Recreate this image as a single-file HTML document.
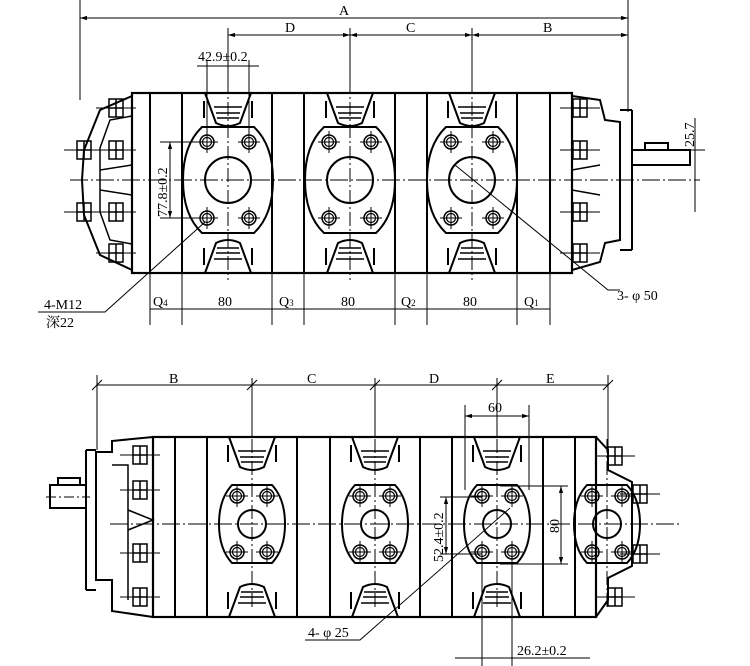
<!DOCTYPE html>
<html><head><meta charset="utf-8"><style>
html,body{margin:0;padding:0;background:#fff;width:750px;height:666px;overflow:hidden}
svg{display:block}
text{font-family:"Liberation Serif","Noto Serif CJK SC",serif;font-size:14px;fill:#000}
</style></head><body>
<svg width="750" height="666" viewBox="0 0 750 666" xmlns="http://www.w3.org/2000/svg">
<defs>
<marker id="ar" viewBox="0 0 10 10" refX="10" refY="5" markerWidth="7" markerHeight="7" orient="auto-start-reverse"><path d="M0,2 L10,5 L0,8z" fill="#000"/></marker>
<g id="bolt"><circle r="7" fill="none" stroke="#000" stroke-width="1.5"/><circle r="4.5" fill="none" stroke="#000" stroke-width="1.2"/><line x1="-11" y1="0" x2="11" y2="0" stroke="#000"/><line x1="0" y1="-11" x2="0" y2="11" stroke="#000"/></g>
<g id="wedgeT" stroke="#000" fill="none" stroke-width="2">
<path d="M-23,0 L-12,30 Q0,36 12,30 L23,0"/><line x1="-14" y1="14" x2="14" y2="14" stroke-width="1.5"/><line x1="-12" y1="20" x2="12" y2="20" stroke-width="1.5"/><line x1="-11" y1="25" x2="11" y2="25" stroke-width="1.5"/>
<line x1="-24" y1="8" x2="-24" y2="25"/><line x1="24" y1="8" x2="24" y2="25"/></g>
<g id="portT">
<path d="M-26,-53 L26,-53 Q45,-35 45,0 Q45,35 26,53 L-26,53 Q-45,35 -45,0 Q-45,-35 -26,-53z" fill="none" stroke="#000" stroke-width="2"/>
<circle r="23" fill="none" stroke="#000" stroke-width="2"/>
<use href="#bolt" x="-21" y="-38"/><use href="#bolt" x="21" y="-38"/><use href="#bolt" x="-21" y="38"/><use href="#bolt" x="21" y="38"/>
<line x1="0" y1="-100" x2="0" y2="100" stroke="#000" stroke-dasharray="14,3,2,3"/>
</g>
<g id="portB">
<path d="M-20,-39 L20,-39 Q33,-25 33,0 Q33,25 20,39 L-20,39 Q-33,25 -33,0 Q-33,-25 -20,-39z" fill="none" stroke="#000" stroke-width="2"/>
<circle r="14" fill="none" stroke="#000" stroke-width="2"/>
<use href="#bolt" x="-15" y="-28"/><use href="#bolt" x="15" y="-28"/><use href="#bolt" x="-15" y="28"/><use href="#bolt" x="15" y="28"/>
<line x1="0" y1="-85" x2="0" y2="85" stroke="#000" stroke-dasharray="14,3,2,3"/>
</g>
<g id="nut" stroke="#000" fill="none" stroke-width="1.5"><rect x="-7" y="-9" width="14" height="18"/><line x1="-7" y1="0" x2="7" y2="0"/><line x1="0" y1="-9" x2="0" y2="9"/><line x1="-20" y1="0" x2="20" y2="0" stroke-width="1"/></g>
</defs>

<g stroke="#000" fill="none">
<rect x="132" y="93" width="440" height="180" stroke-width="2.2"/>
<g stroke-width="2"><line x1="150" y1="93" x2="150" y2="273"/><line x1="182" y1="93" x2="182" y2="273"/><line x1="272" y1="93" x2="272" y2="273"/><line x1="304" y1="93" x2="304" y2="273"/><line x1="395" y1="93" x2="395" y2="273"/><line x1="427" y1="93" x2="427" y2="273"/><line x1="517" y1="93" x2="517" y2="273"/><line x1="550" y1="93" x2="550" y2="273"/></g>
<path d="M132,96 L100,110 L92,130 L84,150 L82,180 L84,215 L92,235 L100,255 L132,270" stroke-width="2"/>
<path d="M132,116 L110,120 L100,148 L100,212 L110,240 L132,244" stroke-width="1.5"/>
<path d="M100,170 L132,165 M100,190 L132,195" stroke-width="1.5"/>
<use href="#nut" x="116" y="108"/><use href="#nut" x="116" y="150"/><use href="#nut" x="116" y="212"/><use href="#nut" x="116" y="253"/><use href="#nut" x="84" y="150"/><use href="#nut" x="84" y="212"/>
<path d="M572,96 L600,100 L605,120 L620,122 L620,240 L605,243 L600,262 L572,270" stroke-width="2"/>
<line x1="620" y1="110" x2="632" y2="110" stroke-width="2"/><line x1="632" y1="110" x2="632" y2="250" stroke-width="2"/><line x1="620" y1="250" x2="632" y2="250" stroke-width="2"/>
<path d="M632,150 L690,150 L690,165 L632,165 M645,150 L645,143 L668,143 L668,150" stroke-width="2"/>
<path d="M572,170 L600,165 M572,190 L600,195" stroke-width="1.5"/>
<use href="#nut" x="580" y="108"/><use href="#nut" x="580" y="150"/><use href="#nut" x="580" y="212"/><use href="#nut" x="580" y="253"/>
<line x1="70" y1="180" x2="700" y2="180" stroke-dasharray="18,3,2,3"/>
<use href="#portT" x="228" y="180"/><use href="#portT" x="350" y="180"/><use href="#portT" x="472" y="180"/>
<use href="#wedgeT" x="228" y="93"/><use href="#wedgeT" x="350" y="93"/><use href="#wedgeT" x="472" y="93"/>
<use href="#wedgeT" x="228" y="273" transform="translate(0,546) scale(1,-1)"/><use href="#wedgeT" x="350" y="273" transform="translate(0,546) scale(1,-1)"/><use href="#wedgeT" x="472" y="273" transform="translate(0,546) scale(1,-1)"/>
<line x1="80" y1="0" x2="80" y2="100"/><line x1="628" y1="0" x2="628" y2="112"/>
<line x1="80" y1="18" x2="628" y2="18" marker-start="url(#ar)" marker-end="url(#ar)"/>
<line x1="228" y1="28" x2="228" y2="90"/><line x1="350" y1="28" x2="350" y2="90"/><line x1="472" y1="28" x2="472" y2="90"/>
<line x1="228" y1="35" x2="350" y2="35" marker-start="url(#ar)" marker-end="url(#ar)"/><line x1="350" y1="35" x2="472" y2="35" marker-start="url(#ar)" marker-end="url(#ar)"/><line x1="472" y1="35" x2="628" y2="35" marker-start="url(#ar)" marker-end="url(#ar)"/>
<line x1="207" y1="60" x2="207" y2="135"/><line x1="249" y1="60" x2="249" y2="135"/><line x1="197" y1="66" x2="259" y2="66"/>
<line x1="160" y1="142" x2="200" y2="142"/><line x1="160" y1="218" x2="200" y2="218"/>
<line x1="170" y1="142" x2="170" y2="218" marker-start="url(#ar)" marker-end="url(#ar)"/>
<g><line x1="150" y1="273" x2="150" y2="325"/><line x1="182" y1="273" x2="182" y2="325"/><line x1="272" y1="273" x2="272" y2="325"/><line x1="304" y1="273" x2="304" y2="325"/><line x1="395" y1="273" x2="395" y2="325"/><line x1="427" y1="273" x2="427" y2="325"/><line x1="517" y1="273" x2="517" y2="325"/><line x1="550" y1="273" x2="550" y2="325"/></g>
<line x1="150" y1="309" x2="550" y2="309"/>
<path d="M38,312 L105,312 L205,222 M455,165 L608,290 L620,290" />
<line x1="695" y1="118" x2="695" y2="212"/><line x1="668" y1="150" x2="705" y2="150"/>

<rect x="153" y="437" width="443" height="180" stroke-width="2.2"/>
<g stroke-width="2"><line x1="175" y1="437" x2="175" y2="617"/><line x1="207" y1="437" x2="207" y2="617"/><line x1="297" y1="437" x2="297" y2="617"/><line x1="330" y1="437" x2="330" y2="617"/><line x1="420" y1="437" x2="420" y2="617"/><line x1="452" y1="437" x2="452" y2="617"/><line x1="543" y1="437" x2="543" y2="617"/><line x1="575" y1="437" x2="575" y2="617"/></g>
<path d="M596,437 L608,450 L608,470 L632,482 L632,566 L608,578 L608,600 L596,617" stroke-width="2"/>
<use href="#nut" x="615" y="456"/><use href="#nut" x="640" y="494"/><use href="#nut" x="640" y="554"/><use href="#nut" x="615" y="597"/>
<path d="M153,437 L112,441 L112,452 L96,452 L96,580 L112,580 L112,611 L153,617" stroke-width="2"/>
<line x1="86" y1="450" x2="86" y2="590" stroke-width="2"/><line x1="86" y1="450" x2="96" y2="450" stroke-width="2"/><line x1="86" y1="590" x2="96" y2="590" stroke-width="2"/>
<path d="M86,485 L50,485 L50,508 L86,508 M58,485 L58,478 L80,478 L80,485" stroke-width="2"/>
<path d="M112,465 L128,465 L128,600 M128,510 L153,520 L128,530" stroke-width="1.5"/>
<use href="#nut" x="140" y="455"/><use href="#nut" x="140" y="490"/><use href="#nut" x="140" y="553"/><use href="#nut" x="140" y="597"/>
<line x1="46" y1="497" x2="90" y2="497" stroke-dasharray="10,3,2,3"/>
<line x1="110" y1="524" x2="680" y2="524" stroke-dasharray="18,3,2,3"/>
<use href="#portB" x="252" y="524"/><use href="#portB" x="375" y="524"/><use href="#portB" x="497" y="524"/><use href="#portB" x="607" y="524"/>
<use href="#wedgeT" x="252" y="437"/><use href="#wedgeT" x="375" y="437"/><use href="#wedgeT" x="497" y="437"/>
<use href="#wedgeT" x="252" y="617" transform="translate(0,1234) scale(1,-1)"/><use href="#wedgeT" x="375" y="617" transform="translate(0,1234) scale(1,-1)"/><use href="#wedgeT" x="497" y="617" transform="translate(0,1234) scale(1,-1)"/>
<line x1="97" y1="375" x2="97" y2="450"/><line x1="608" y1="375" x2="608" y2="450"/>
<line x1="252" y1="378" x2="252" y2="437"/><line x1="375" y1="378" x2="375" y2="437"/><line x1="497" y1="378" x2="497" y2="437"/>
<line x1="97" y1="385" x2="608" y2="385"/>
<path d="M92,390 L102,380 M247,390 L257,380 M370,390 L380,380 M492,390 L502,380 M603,390 L613,380"/>
<line x1="465" y1="405" x2="465" y2="490"/><line x1="529" y1="405" x2="529" y2="490"/>
<line x1="465" y1="416" x2="529" y2="416" marker-start="url(#ar)" marker-end="url(#ar)"/>
<line x1="500" y1="486" x2="568" y2="486"/><line x1="500" y1="564" x2="568" y2="564"/>
<line x1="561" y1="486" x2="561" y2="564" marker-start="url(#ar)" marker-end="url(#ar)"/>
<line x1="440" y1="497" x2="482" y2="497"/><line x1="440" y1="554" x2="482" y2="554"/>
<line x1="446" y1="497" x2="446" y2="554" marker-start="url(#ar)" marker-end="url(#ar)"/>
<line x1="482" y1="560" x2="482" y2="666"/><line x1="512" y1="560" x2="512" y2="666"/>
<line x1="455" y1="658" x2="590" y2="658"/>
<path d="M305,640 L360,640 L510,508"/>
</g>
<g>
<text x="339" y="15">A</text>
<text x="285" y="32">D</text><text x="406" y="32">C</text><text x="543" y="32">B</text>
<text x="198" y="61" font-size="13">42.9±0.2</text>
<text x="0" y="0" font-size="13" transform="translate(167,217) rotate(-90)">77.8±0.2</text>
<text x="153" y="306" font-size="13">Q<tspan font-size="9">4</tspan></text>
<text x="218" y="306">80</text>
<text x="279" y="306" font-size="13">Q<tspan font-size="9">3</tspan></text>
<text x="341" y="306">80</text>
<text x="401" y="306" font-size="13">Q<tspan font-size="9">2</tspan></text>
<text x="463" y="306">80</text>
<text x="524" y="306" font-size="13">Q<tspan font-size="9">1</tspan></text>
<text x="44" y="309" font-size="13">4-M12</text>
<text x="46" y="327" font-size="13">深22</text>
<text x="617" y="300" font-size="13">3- φ 50</text>
<text x="0" y="0" font-size="13" transform="translate(694,147) rotate(-90)">25.7</text>
<text x="169" y="383">B</text><text x="307" y="383">C</text><text x="429" y="383">D</text><text x="546" y="383">E</text>
<text x="488" y="412" font-size="13">60</text>
<text x="0" y="0" font-size="13" transform="translate(559,533) rotate(-90)">80</text>
<text x="0" y="0" font-size="13" transform="translate(443,562) rotate(-90)">52.4±0.2</text>
<text x="308" y="637" font-size="13">4- φ 25</text>
<text x="517" y="655" font-size="13">26.2±0.2</text>
</g>
</svg>
</body></html>
